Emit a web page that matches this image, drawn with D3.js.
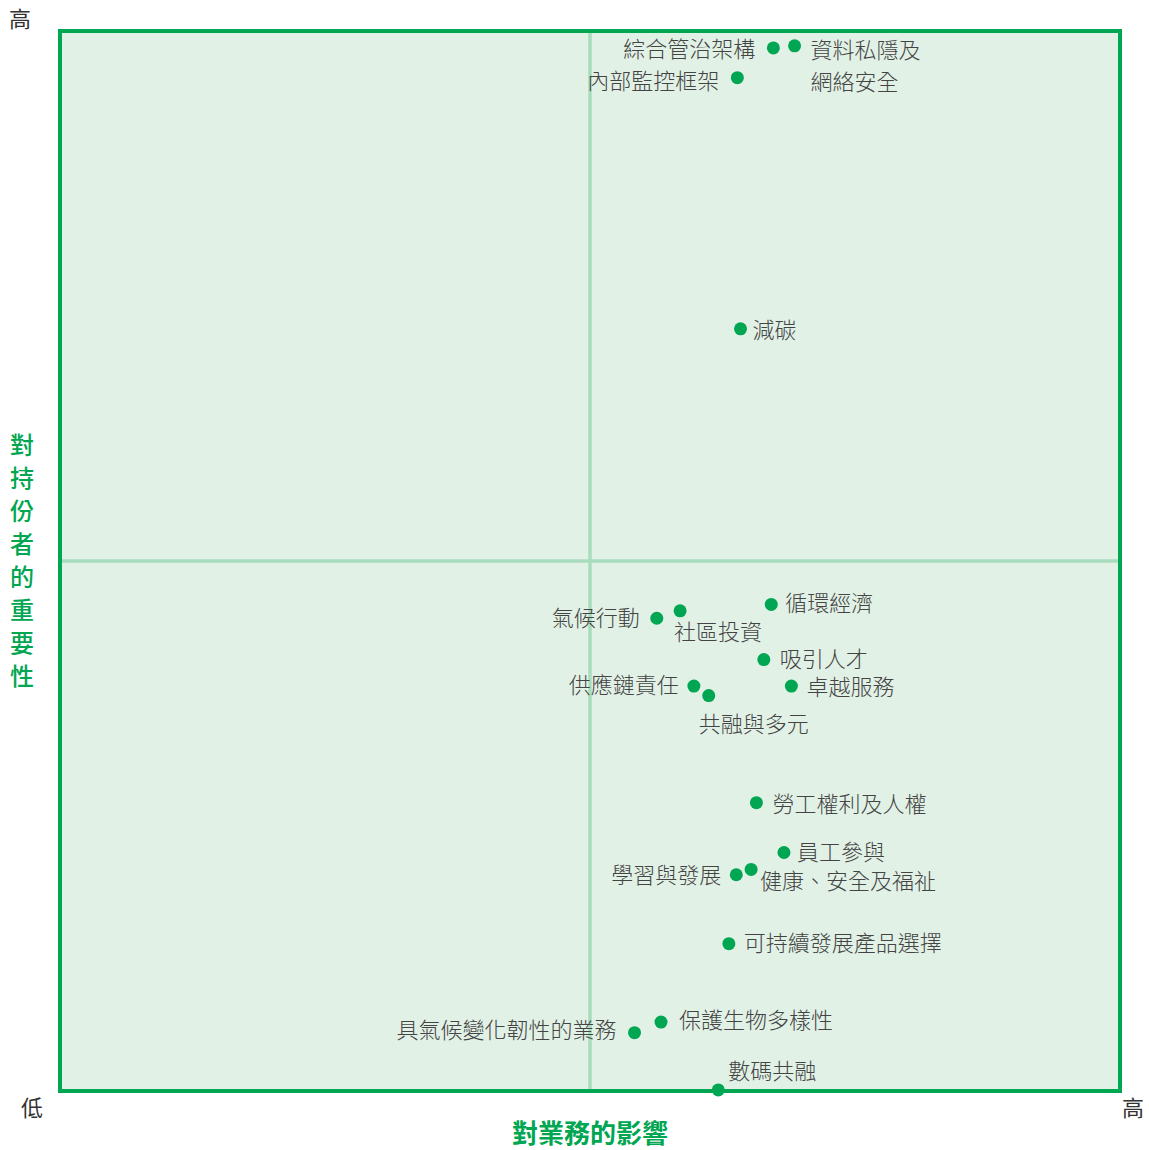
<!DOCTYPE html>
<html>
<head>
<meta charset="utf-8">
<script src="https://cdn.jsdelivr.net/npm/d3@7"></script>
<style>
  body { margin: 0; background: #fff; }
  svg { display: block; }
  text { font-family: "Noto Sans CJK TC", "Noto Sans CJK SC", sans-serif; }
</style>
</head>
<body>
<div id="chart"></div>
<script>
// topics on the materiality matrix
const topics = [
  "綜合管治架構", "資料私隱及網絡安全", "內部監控框架", "減碳",
  "氣候行動", "社區投資", "循環經濟", "吸引人才",
  "供應鏈責任", "共融與多元", "卓越服務", "勞工權利及人權",
  "員工參與", "健康、安全及福祉", "學習與發展", "可持續發展產品選擇",
  "保護生物多樣性", "具氣候變化韌性的業務", "數碼共融"
];
// impact on business (x) and importance to stakeholders (y), 0-10
const impact = [
  6.73, 6.93, 6.39, 6.42,
  5.63, 5.85, 6.71, 6.64,
  5.98, 6.12, 6.90, 6.57,
  6.83, 6.52, 6.38, 6.31,
  5.67, 5.42, 6.21
];
const importance = [
  9.84, 9.86, 9.56, 7.19,
  4.46, 4.53, 4.59, 4.07,
  3.82, 3.73, 3.82, 2.72,
  2.25, 2.09, 2.04, 1.39,
  0.65, 0.55, 0.01
];
// label lines (some labels wrap)
const labelLines = [
  ["綜合管治架構"], ["資料私隱及", "網絡安全"], ["內部監控框架"], ["減碳"],
  ["氣候行動"], ["社區投資"], ["循環經濟"], ["吸引人才"],
  ["供應鏈責任"], ["共融與多元"], ["卓越服務"], ["勞工權利及人權"],
  ["員工參與"], ["健康、安全及福祉"], ["學習與發展"], ["可持續發展產品選擇"],
  ["保護生物多樣性"], ["具氣候變化韌性的業務"], ["數碼共融"]
];
const lowLabel = "低";
const highLabel = "高";
const xTitle = "對業務的影響";
const yTitle = "對持份者的重要性";

// label placement relative to the dot: [anchor, dx, dy]
const labelPos = [
  ["end", -18, 1], ["start", 16, 4], ["end", -18, 3], ["start", 12, 1],
  ["end", -17, 0], ["start", -6, 21], ["start", 14, -1], ["start", 16, -1],
  ["end", -15, -1], ["start", -10, 28], ["start", 15, 1], ["start", 16, 1],
  ["start", 13, 0], ["start", 9, 12], ["end", -15, 0], ["start", 15, -1],
  ["start", 18, -2], ["end", -18, -3], ["start", 10, -19]
];

const W = 1149, H = 1150;
const green = "#00a651";

const svg = d3.select("#chart").append("svg")
  .attr("width", W)
  .attr("height", H);

const x = d3.scaleLinear().domain([0, 10]).range([60, 1120]);
const y = d3.scaleLinear().domain([0, 10]).range([1091, 31]);

// background
svg.append("rect")
  .attr("x", x(0)).attr("y", y(10))
  .attr("width", x(10) - x(0)).attr("height", y(0) - y(10))
  .attr("fill", "#e1f1e6");

// quadrant lines
svg.append("line")
  .attr("x1", x(5)).attr("x2", x(5))
  .attr("y1", y(0)).attr("y2", y(10))
  .attr("stroke", "#a9dcbc").attr("stroke-width", 3.5);
svg.append("line")
  .attr("x1", x(0)).attr("x2", x(10))
  .attr("y1", y(5)).attr("y2", y(5))
  .attr("stroke", "#a9dcbc").attr("stroke-width", 3.5);

// frame
svg.append("rect")
  .attr("x", x(0)).attr("y", y(10))
  .attr("width", x(10) - x(0)).attr("height", y(0) - y(10))
  .attr("fill", "none")
  .attr("stroke", green).attr("stroke-width", 4);

// low/high corner labels
const corner = svg.append("g")
  .style("font-size", "22px")
  .attr("fill", "#333")
  .attr("text-anchor", "middle");
corner.append("text").attr("x", 20).attr("y", 27).text(highLabel);
corner.append("text").attr("x", 32).attr("y", 1116).text(lowLabel);
corner.append("text").attr("x", 1133).attr("y", 1116).text(highLabel);

// axis titles
svg.append("text")
  .attr("x", x(5)).attr("y", 1143)
  .attr("text-anchor", "middle")
  .attr("fill", green)
  .style("font-size", "26px").style("font-weight", "bold")
  .text(xTitle);

svg.append("text")
  .attr("text-anchor", "middle")
  .attr("fill", green)
  .style("font-size", "24px").style("font-weight", "500")
  .selectAll("tspan")
  .data(Array.from(yTitle))
  .enter()
  .append("tspan")
  .attr("x", 22)
  .attr("y", (d, i) => 454 + i * 33)
  .text(d => d);

// dots
svg.append("g")
  .selectAll("circle")
  .data(topics)
  .enter()
  .append("circle")
  .attr("cx", (d, i) => x(impact[i]))
  .attr("cy", (d, i) => y(importance[i]))
  .attr("r", 6.5)
  .attr("fill", green);

// labels
const labels = svg.append("g")
  .attr("fill", "#444")
  .style("font-size", "22px")
  .style("font-weight", "300")
  .selectAll("text")
  .data(topics)
  .enter()
  .append("text")
  .attr("text-anchor", (d, i) => labelPos[i][0])
  .attr("transform", (d, i) => "translate(" + (x(impact[i]) + labelPos[i][1]) + "," + (y(importance[i]) + labelPos[i][2]) + ")");

labels.selectAll("tspan")
  .data((d, i) => labelLines[i])
  .enter()
  .append("tspan")
  .attr("x", 0)
  .attr("y", (d, j) => j * 32)
  .attr("dy", "0.36em")
  .text(d => d);
</script>
</body>
</html>
